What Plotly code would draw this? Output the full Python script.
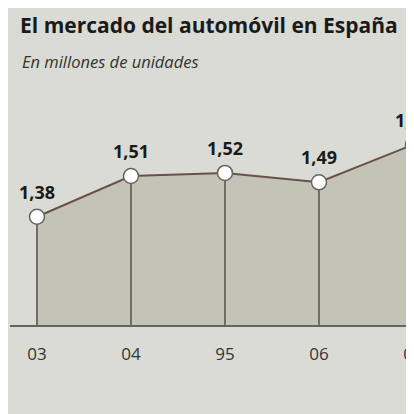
import plotly.graph_objects as go

categories = ["03", "04", "95", "06", "07"]
values = [1.38, 1.51, 1.52, 1.49, 1.61]
title_text = "El mercado del automóvil en España"
subtitle_text = "En millones de unidades"

OFF = 8  # page body margin offset
W, H = 414 - OFF, 414 - OFF
BG = "#dadbd4"
FILL = "#c3c4b6"
LINE = "#6a504a"
DARK = "#65655f"
FONT = "Open Sans"

xs = list(range(len(categories)))
labels = [f"{v:.2f}".replace(".", ",") for v in values]
ymin, ymax = 1.034, 1.753

plot_top = 100 - OFF
plot_bottom = 325 - OFF
plot_h = plot_bottom - plot_top
left_m = 10 - OFF
plot_w = W - left_m

# drop lines built from the data arrays
drop_x, drop_y = [], []
for x, v in zip(xs, values):
    drop_x += [x, x, None]
    drop_y += [ymin, v, None]

fig = go.Figure()
fig.add_trace(go.Scatter(x=xs, y=values, mode="none", fill="tozeroy",
                         fillcolor=FILL, hoverinfo="skip"))
fig.add_trace(go.Scatter(x=drop_x, y=drop_y, mode="lines",
                         line=dict(color=DARK, width=1.8), hoverinfo="skip"))
fig.add_trace(go.Scatter(x=xs, y=values, mode="lines+markers",
                         line=dict(color=LINE, width=2),
                         marker=dict(size=15, color="white",
                                     line=dict(color=DARK, width=1.5)),
                         cliponaxis=False))

for x, v, t in zip(xs, values, labels):
    fig.add_annotation(x=x, y=v, text=t, showarrow=False, yshift=25,
                       font=dict(family=FONT, size=18, color="#1a1a1a",
                                 weight="bold"))

fig.add_annotation(xref="paper", yref="paper",
                   x=(20 - 10) / plot_w, y=(325 - 61) / plot_h,
                   xanchor="left", yanchor="middle", showarrow=False,
                   text=f"<i>{subtitle_text}</i>",
                   font=dict(family=FONT, size=16.5, color="#333333"))

fig.update_layout(
    width=W, height=H,
    margin=dict(l=left_m, r=0, t=plot_top, b=H - plot_bottom,
                autoexpand=False),
    paper_bgcolor=BG, plot_bgcolor=BG,
    showlegend=False,
    title=dict(text=f"<b>{title_text}</b>", xref="container", yref="container",
               x=(20 - OFF) / W, y=1 - (26 - OFF) / H,
               xanchor="left", yanchor="middle",
               font=dict(family=FONT, size=21, color="#1a1a1a")),
    xaxis=dict(range=[-0.287, 4.011], tickmode="array", tickvals=xs,
               ticktext=categories, showgrid=False, zeroline=False,
               showline=True, linecolor=DARK, linewidth=1.8,
               ticks="", ticklabelstandoff=13, ticklabeloverflow="allow",
               automargin=False,
               tickfont=dict(family=FONT, size=17, color="#333333")),
    yaxis=dict(range=[ymin, ymax], visible=False, showgrid=False,
               zeroline=False, automargin=False),
)

fig.write_html("out.html")
